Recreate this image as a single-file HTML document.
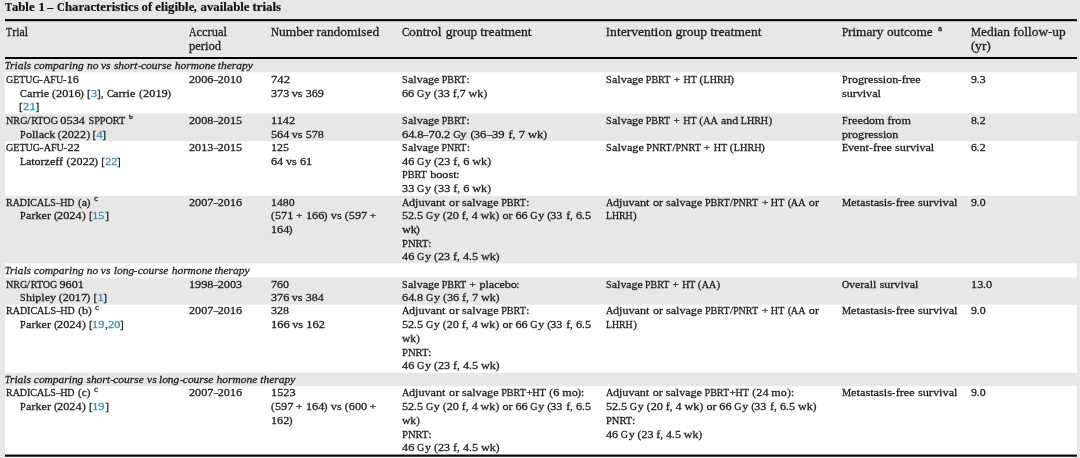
<!DOCTYPE html>
<html>
<head>
<meta charset="utf-8">
<title>Table 1 - Characteristics of eligible, available trials</title>
<style>
html,body{margin:0;padding:0;}
body{width:1080px;height:458px;overflow:hidden;background:#e7e7e5;font-family:"Liberation Serif",serif;color:#1a1a1a;position:relative;}
#page{position:absolute;left:0;top:0;width:1080px;height:458px;will-change:transform;}
.w,.r{position:absolute;left:5px;width:1072px;}
.w{background:#fff;}
.l{position:absolute;transform-origin:0 0;white-space:pre;line-height:16px;height:16px;-webkit-text-stroke:0.28px #1a1a1a;}
.l i{display:inline-block;font-style:inherit;transform-origin:0 0;white-space:pre;}
.b{font-size:11.4px;}
.s{font-size:10.8px;font-style:italic;}
.h{font-size:12.5px;}
.title{font-size:12.2px;font-weight:bold;color:#111;-webkit-text-stroke:0.2px #111;}
a,.k{color:#2f93bf;text-decoration:none;-webkit-text-stroke:0.28px #2f93bf;}
</style>
</head>
<body>
<div id="page">
<div class="w" style="top:73px;height:40px"></div>
<div class="w" style="top:72px;height:1px;background:#f9f9f8"></div>
<div class="w" style="top:113px;height:1px;background:#f3f3f2"></div>
<div class="w" style="top:141px;height:54px"></div>
<div class="w" style="top:195px;height:1px;background:#f8f8f7"></div>
<div class="w" style="top:264px;height:13px"></div>
<div class="w" style="top:263px;height:1px;background:#f9f9f8"></div>
<div class="w" style="top:277px;height:1px;background:#f3f3f2"></div>
<div class="w" style="top:305px;height:67px"></div>
<div class="w" style="top:304px;height:1px;background:#eeeeed"></div>
<div class="w" style="top:372px;height:1px;background:#f8f8f7"></div>
<div class="w" style="top:387px;height:67px"></div>
<div class="w" style="top:386px;height:1px;background:#f9f9f8"></div>
<div class="r" style="top:19px;height:1px;background:#1c1c1c"></div>
<div class="r" style="top:20px;height:1px;background:#050505"></div>
<div class="r" style="top:21px;height:1px;background:#b4b4b4"></div>
<div class="r" style="top:57px;height:2px;background:#050505"></div>
<div class="r" style="top:454px;height:1px;background:#8a8a8a"></div>
<div class="r" style="top:455px;height:1px;background:#050505"></div>
<div class="r" style="top:456px;height:1px;background:#4a4a4a"></div>
<div class="r" style="top:457px;height:1px;background:#f1f1f1"></div>
<div class="l title" id="l0" style="left:4.90px;top:-1px;transform:scaleX(0.9826)"><i style="transform:scaleX(0.888);margin-right:-0.91px">T</i><i style="transform:scaleX(1.065);margin-right:1.40px">able</i><i style="transform:scaleX(1.078);margin-right:0.24px"> </i><i style="transform:scaleX(1.077);margin-right:0.47px">1</i><i style="transform:scaleX(1.078);margin-right:0.24px"> </i><i style="transform:scaleX(0.988);margin-right:-0.08px">–</i><i style="transform:scaleX(1.078);margin-right:0.24px"> </i><i style="transform:scaleX(0.888);margin-right:-0.99px">C</i><i style="transform:scaleX(1.065);margin-right:4.54px">haracteristics</i><i style="transform:scaleX(1.078);margin-right:0.24px"> </i><i style="transform:scaleX(1.065);margin-right:0.66px">of</i><i style="transform:scaleX(1.078);margin-right:0.24px"> </i><i style="transform:scaleX(1.065);margin-right:2.40px">eligible</i><i style="transform:scaleX(0.988);margin-right:-0.04px">,</i><i style="transform:scaleX(1.078);margin-right:0.24px"> </i><i style="transform:scaleX(1.065);margin-right:3.02px">available</i><i style="transform:scaleX(1.078);margin-right:0.24px"> </i><i style="transform:scaleX(1.065);margin-right:1.75px">trials</i></div>
<div class="l h" id="l1" style="left:5.70px;top:24px;transform:scaleX(0.8890)"><i style="transform:scaleX(0.888);margin-right:-0.86px">T</i><i style="transform:scaleX(1.065);margin-right:1.08px">rial</i></div>
<div class="l h" id="l2" style="left:188.50px;top:24px;transform:scaleX(0.9385)"><i style="transform:scaleX(0.888);margin-right:-1.01px">A</i><i style="transform:scaleX(1.065);margin-right:1.97px">ccrual</i></div>
<div class="l h" id="l3" style="left:188.50px;top:38px;transform:scaleX(0.9406)"><i style="transform:scaleX(1.065);margin-right:2.06px">period</i></div>
<div class="l h" id="l4" style="left:271.30px;top:24px;transform:scaleX(1.0100)"><i style="transform:scaleX(0.888);margin-right:-1.01px">N</i><i style="transform:scaleX(1.065);margin-right:2.06px">umber</i><i style="transform:scaleX(1.078);margin-right:0.24px"> </i><i style="transform:scaleX(1.065);margin-right:3.76px">randomised</i></div>
<div class="l h" id="l5" style="left:401.50px;top:24px;transform:scaleX(1.0175)"><i style="transform:scaleX(0.888);margin-right:-0.94px">C</i><i style="transform:scaleX(1.065);margin-right:1.93px">ontrol</i><i style="transform:scaleX(1.078);margin-right:0.24px"> </i><i style="transform:scaleX(1.065);margin-right:1.88px">group</i><i style="transform:scaleX(1.078);margin-right:0.24px"> </i><i style="transform:scaleX(1.065);margin-right:3.05px">treatment</i></div>
<div class="l h" id="l6" style="left:605.80px;top:24px;transform:scaleX(1.0210)"><i style="transform:scaleX(0.888);margin-right:-0.47px">I</i><i style="transform:scaleX(1.065);margin-right:3.67px">ntervention</i><i style="transform:scaleX(1.078);margin-right:0.24px"> </i><i style="transform:scaleX(1.065);margin-right:1.88px">group</i><i style="transform:scaleX(1.078);margin-right:0.24px"> </i><i style="transform:scaleX(1.065);margin-right:3.05px">treatment</i></div>
<div class="l h" id="l7" style="left:842.20px;top:24px;transform:scaleX(0.9980)"><i style="transform:scaleX(0.888);margin-right:-0.78px">P</i><i style="transform:scaleX(1.065);margin-right:2.15px">rimary</i><i style="transform:scaleX(1.078);margin-right:0.24px"> </i><i style="transform:scaleX(1.065);margin-right:2.78px">outcome</i></div>
<div class="l h" id="l8" style="left:971.30px;top:24px;transform:scaleX(1.0038)"><i style="transform:scaleX(0.888);margin-right:-1.25px">M</i><i style="transform:scaleX(1.065);margin-right:1.75px">edian</i><i style="transform:scaleX(1.078);margin-right:0.24px"> </i><i style="transform:scaleX(1.065);margin-right:2.11px">follow</i><i style="transform:scaleX(0.988);margin-right:-0.05px">-</i><i style="transform:scaleX(1.065);margin-right:0.81px">up</i></div>
<div class="l h" id="l9" style="left:971.10px;top:38px;transform:scaleX(1.0300)"><i style="transform:scaleX(0.988);margin-right:-0.05px">(</i><i style="transform:scaleX(1.065);margin-right:0.67px">yr</i><i style="transform:scaleX(0.988);margin-right:-0.05px">)</i></div>
<div class="l s" id="l10" style="left:4.80px;top:57px;transform:scaleX(0.9991)"><i style="transform:scaleX(0.888);margin-right:-0.67px">T</i><i style="transform:scaleX(1.065);margin-right:1.28px">rials</i><i style="transform:scaleX(1.078);margin-right:0.21px"> </i><i style="transform:scaleX(1.065);margin-right:3.02px">comparing</i><i style="transform:scaleX(1.078);margin-right:0.21px"> </i><i style="transform:scaleX(1.065);margin-right:0.70px">no</i><i style="transform:scaleX(1.078);margin-right:0.21px"> </i><i style="transform:scaleX(1.065);margin-right:0.58px">vs</i><i style="transform:scaleX(1.078);margin-right:0.21px"> </i><i style="transform:scaleX(1.065);margin-right:1.43px">short</i><i style="transform:scaleX(0.988);margin-right:-0.04px">-</i><i style="transform:scaleX(1.065);margin-right:1.86px">course</i><i style="transform:scaleX(1.078);margin-right:0.21px"> </i><i style="transform:scaleX(1.065);margin-right:2.48px">hormone</i><i style="transform:scaleX(1.078);margin-right:0.21px"> </i><i style="transform:scaleX(1.065);margin-right:2.13px">therapy</i></div>
<div class="l s" id="l11" style="left:4.80px;top:262px;transform:scaleX(0.9980)"><i style="transform:scaleX(0.888);margin-right:-0.67px">T</i><i style="transform:scaleX(1.065);margin-right:1.28px">rials</i><i style="transform:scaleX(1.078);margin-right:0.21px"> </i><i style="transform:scaleX(1.065);margin-right:3.02px">comparing</i><i style="transform:scaleX(1.078);margin-right:0.21px"> </i><i style="transform:scaleX(1.065);margin-right:0.70px">no</i><i style="transform:scaleX(1.078);margin-right:0.21px"> </i><i style="transform:scaleX(1.065);margin-right:0.58px">vs</i><i style="transform:scaleX(1.078);margin-right:0.21px"> </i><i style="transform:scaleX(1.065);margin-right:1.24px">long</i><i style="transform:scaleX(0.988);margin-right:-0.04px">-</i><i style="transform:scaleX(1.065);margin-right:1.86px">course</i><i style="transform:scaleX(1.078);margin-right:0.21px"> </i><i style="transform:scaleX(1.065);margin-right:2.48px">hormone</i><i style="transform:scaleX(1.078);margin-right:0.21px"> </i><i style="transform:scaleX(1.065);margin-right:2.13px">therapy</i></div>
<div class="l s" id="l12" style="left:4.80px;top:371px;transform:scaleX(0.9934)"><i style="transform:scaleX(0.888);margin-right:-0.67px">T</i><i style="transform:scaleX(1.065);margin-right:1.28px">rials</i><i style="transform:scaleX(1.078);margin-right:0.21px"> </i><i style="transform:scaleX(1.065);margin-right:3.02px">comparing</i><i style="transform:scaleX(1.078);margin-right:0.21px"> </i><i style="transform:scaleX(1.065);margin-right:1.43px">short</i><i style="transform:scaleX(0.988);margin-right:-0.04px">-</i><i style="transform:scaleX(1.065);margin-right:1.86px">course</i><i style="transform:scaleX(1.078);margin-right:0.21px"> </i><i style="transform:scaleX(1.065);margin-right:0.58px">vs</i><i style="transform:scaleX(1.078);margin-right:0.21px"> </i><i style="transform:scaleX(1.065);margin-right:1.24px">long</i><i style="transform:scaleX(0.988);margin-right:-0.04px">-</i><i style="transform:scaleX(1.065);margin-right:1.86px">course</i><i style="transform:scaleX(1.078);margin-right:0.21px"> </i><i style="transform:scaleX(1.065);margin-right:2.48px">hormone</i><i style="transform:scaleX(1.078);margin-right:0.21px"> </i><i style="transform:scaleX(1.065);margin-right:2.13px">therapy</i></div>
<div class="l b" id="l13" style="left:5.70px;top:71px;transform:scaleX(0.9793)"><i style="transform:scaleX(0.888);margin-right:-4.33px">GETUG</i><i style="transform:scaleX(0.988);margin-right:-0.05px">-</i><i style="transform:scaleX(0.888);margin-right:-2.56px">AFU</i><i style="transform:scaleX(0.988);margin-right:-0.05px">-</i><i style="transform:scaleX(1.077);margin-right:0.88px">16</i></div>
<div class="l b" id="l14" style="left:19.60px;top:85px;transform:scaleX(1.0009)"><i style="transform:scaleX(0.888);margin-right:-0.85px">C</i><i style="transform:scaleX(1.065);margin-right:1.35px">arrie</i><i style="transform:scaleX(1.078);margin-right:0.22px"> </i><i style="transform:scaleX(0.988);margin-right:-0.05px">(</i><i style="transform:scaleX(1.077);margin-right:1.76px">2016</i><i style="transform:scaleX(0.988);margin-right:-0.05px">)</i><i style="transform:scaleX(1.078);margin-right:0.22px"> </i><i style="transform:scaleX(0.988);margin-right:-0.05px">[</i><i class="k" style="transform:scaleX(1.077);margin-right:0.44px">3</i><i style="transform:scaleX(0.988);margin-right:-0.08px">],</i><i style="transform:scaleX(1.078);margin-right:0.22px"> </i><i style="transform:scaleX(0.888);margin-right:-0.85px">C</i><i style="transform:scaleX(1.065);margin-right:1.35px">arrie</i><i style="transform:scaleX(1.078);margin-right:0.22px"> </i><i style="transform:scaleX(0.988);margin-right:-0.05px">(</i><i style="transform:scaleX(1.077);margin-right:1.76px">2019</i><i style="transform:scaleX(0.988);margin-right:-0.05px">)</i></div>
<div class="l b" id="l15" style="left:19.40px;top:98px;transform:scaleX(1.0254)"><i style="transform:scaleX(0.988);margin-right:-0.05px">[</i><i class="k" style="transform:scaleX(1.077);margin-right:0.88px">21</i><i style="transform:scaleX(0.988);margin-right:-0.05px">]</i></div>
<div class="l b" id="l16" style="left:188.50px;top:71px;transform:scaleX(0.9905)"><i style="transform:scaleX(1.077);margin-right:1.76px">2006</i><i style="transform:scaleX(0.800);margin-right:-1.14px">–</i><i style="transform:scaleX(1.077);margin-right:1.76px">2010</i></div>
<div class="l b" id="l17" style="left:271.30px;top:71px;transform:scaleX(1.0351)"><i style="transform:scaleX(1.077);margin-right:1.32px">742</i></div>
<div class="l b" id="l18" style="left:271.30px;top:85px;transform:scaleX(0.9900)"><i style="transform:scaleX(1.077);margin-right:1.32px">373</i><i style="transform:scaleX(1.078);margin-right:0.22px"> </i><i style="transform:scaleX(1.065);margin-right:0.65px">vs</i><i style="transform:scaleX(1.078);margin-right:0.22px"> </i><i style="transform:scaleX(1.077);margin-right:1.32px">369</i></div>
<div class="l b" id="l19" style="left:401.50px;top:71px;transform:scaleX(0.9920)"><i style="transform:scaleX(0.888);margin-right:-0.71px">S</i><i style="transform:scaleX(1.065);margin-right:1.92px">alvage</i><i style="transform:scaleX(1.078);margin-right:0.22px"> </i><i style="transform:scaleX(0.888);margin-right:-3.12px">PBRT</i><i style="transform:scaleX(0.988);margin-right:-0.04px">:</i></div>
<div class="l b" id="l20" style="left:401.50px;top:85px;transform:scaleX(0.9935)"><i style="transform:scaleX(1.077);margin-right:0.88px">66</i><i style="transform:scaleX(1.078);margin-right:0.22px"> </i><i style="transform:scaleX(0.888);margin-right:-0.92px">G</i><i style="transform:scaleX(1.065);margin-right:0.37px">y</i><i style="transform:scaleX(1.078);margin-right:0.22px"> </i><i style="transform:scaleX(0.988);margin-right:-0.05px">(</i><i style="transform:scaleX(1.077);margin-right:0.88px">33</i><i style="transform:scaleX(1.078);margin-right:0.22px"> </i><i style="transform:scaleX(1.065);margin-right:0.24px">f</i><i style="transform:scaleX(0.988);margin-right:-0.04px">,</i><i style="transform:scaleX(1.077);margin-right:0.44px">7</i><i style="transform:scaleX(1.078);margin-right:0.22px"> </i><i style="transform:scaleX(1.065);margin-right:0.90px">wk</i><i style="transform:scaleX(0.988);margin-right:-0.05px">)</i></div>
<div class="l b" id="l21" style="left:605.80px;top:71px;transform:scaleX(0.9948)"><i style="transform:scaleX(0.888);margin-right:-0.71px">S</i><i style="transform:scaleX(1.065);margin-right:1.92px">alvage</i><i style="transform:scaleX(1.078);margin-right:0.22px"> </i><i style="transform:scaleX(0.888);margin-right:-3.12px">PBRT</i><i style="transform:scaleX(1.078);margin-right:0.22px"> </i><i style="transform:scaleX(0.988);margin-right:-0.08px">+</i><i style="transform:scaleX(1.078);margin-right:0.22px"> </i><i style="transform:scaleX(0.888);margin-right:-1.70px">HT</i><i style="transform:scaleX(1.078);margin-right:0.22px"> </i><i style="transform:scaleX(0.988);margin-right:-0.05px">(</i><i style="transform:scaleX(0.888);margin-right:-3.48px">LHRH</i><i style="transform:scaleX(0.988);margin-right:-0.05px">)</i></div>
<div class="l b" id="l22" style="left:842.20px;top:71px;transform:scaleX(0.9955)"><i style="transform:scaleX(0.888);margin-right:-0.71px">P</i><i style="transform:scaleX(1.065);margin-right:3.06px">rogression</i><i style="transform:scaleX(0.988);margin-right:-0.05px">-</i><i style="transform:scaleX(1.065);margin-right:1.14px">free</i></div>
<div class="l b" id="l23" style="left:842.20px;top:85px;transform:scaleX(0.9936)"><i style="transform:scaleX(1.065);margin-right:2.37px">survival</i></div>
<div class="l b" id="l24" style="left:971.30px;top:71px;transform:scaleX(0.9617)"><i style="transform:scaleX(1.077);margin-right:0.44px">9</i><i style="transform:scaleX(0.988);margin-right:-0.04px">.</i><i style="transform:scaleX(1.077);margin-right:0.44px">3</i></div>
<div class="l b" id="l25" style="left:5.70px;top:112px;transform:scaleX(1.0064)"><i style="transform:scaleX(0.888);margin-right:-2.70px">NRG</i><i style="transform:scaleX(0.988);margin-right:-0.04px">/</i><i style="transform:scaleX(0.888);margin-right:-3.38px">RTOG</i><i style="transform:scaleX(1.078);margin-right:0.22px"> </i><i style="transform:scaleX(1.077);margin-right:1.76px">0534</i><i style="transform:scaleX(1.078);margin-right:0.22px"> </i><i style="transform:scaleX(0.888);margin-right:-4.61px">SPPORT</i></div>
<div class="l b" id="l26" style="left:19.60px;top:126px;transform:scaleX(0.9919)"><i style="transform:scaleX(0.888);margin-right:-0.71px">P</i><i style="transform:scaleX(1.065);margin-right:1.80px">ollack</i><i style="transform:scaleX(1.078);margin-right:0.22px"> </i><i style="transform:scaleX(0.988);margin-right:-0.05px">(</i><i style="transform:scaleX(1.077);margin-right:1.76px">2022</i><i style="transform:scaleX(0.988);margin-right:-0.05px">)</i><i style="transform:scaleX(1.078);margin-right:0.22px"> </i><i style="transform:scaleX(0.988);margin-right:-0.05px">[</i><i class="k" style="transform:scaleX(1.077);margin-right:0.44px">4</i><i style="transform:scaleX(0.988);margin-right:-0.05px">]</i></div>
<div class="l b" id="l27" style="left:188.50px;top:112px;transform:scaleX(0.9905)"><i style="transform:scaleX(1.077);margin-right:1.76px">2008</i><i style="transform:scaleX(0.800);margin-right:-1.14px">–</i><i style="transform:scaleX(1.077);margin-right:1.76px">2015</i></div>
<div class="l b" id="l28" style="left:271.30px;top:112px;transform:scaleX(1.0037)"><i style="transform:scaleX(1.077);margin-right:1.73px">1142</i></div>
<div class="l b" id="l29" style="left:271.30px;top:126px;transform:scaleX(0.9900)"><i style="transform:scaleX(1.077);margin-right:1.32px">564</i><i style="transform:scaleX(1.078);margin-right:0.22px"> </i><i style="transform:scaleX(1.065);margin-right:0.65px">vs</i><i style="transform:scaleX(1.078);margin-right:0.22px"> </i><i style="transform:scaleX(1.077);margin-right:1.32px">578</i></div>
<div class="l b" id="l30" style="left:401.50px;top:112px;transform:scaleX(0.9920)"><i style="transform:scaleX(0.888);margin-right:-0.71px">S</i><i style="transform:scaleX(1.065);margin-right:1.92px">alvage</i><i style="transform:scaleX(1.078);margin-right:0.22px"> </i><i style="transform:scaleX(0.888);margin-right:-3.12px">PBRT</i><i style="transform:scaleX(0.988);margin-right:-0.04px">:</i></div>
<div class="l b" id="l31" style="left:401.50px;top:126px;transform:scaleX(1.0238)"><i style="transform:scaleX(1.077);margin-right:0.88px">64</i><i style="transform:scaleX(0.988);margin-right:-0.04px">.</i><i style="transform:scaleX(1.077);margin-right:0.44px">8</i><i style="transform:scaleX(0.800);margin-right:-1.14px">–</i><i style="transform:scaleX(1.077);margin-right:0.88px">70</i><i style="transform:scaleX(0.988);margin-right:-0.04px">.</i><i style="transform:scaleX(1.077);margin-right:0.44px">2</i><i style="transform:scaleX(1.078);margin-right:0.22px"> </i><i style="transform:scaleX(0.888);margin-right:-0.92px">G</i><i style="transform:scaleX(1.065);margin-right:0.37px">y</i><i style="transform:scaleX(1.078);margin-right:0.22px"> </i><i style="transform:scaleX(0.988);margin-right:-0.05px">(</i><i style="transform:scaleX(1.077);margin-right:0.88px">36</i><i style="transform:scaleX(0.988);margin-right:-0.07px">‒</i><i style="transform:scaleX(1.077);margin-right:0.88px">39</i><i style="transform:scaleX(1.078);margin-right:0.22px"> </i><i style="transform:scaleX(1.065);margin-right:0.24px">f</i><i style="transform:scaleX(0.988);margin-right:-0.04px">,</i><i style="transform:scaleX(1.078);margin-right:0.22px"> </i><i style="transform:scaleX(1.077);margin-right:0.44px">7</i><i style="transform:scaleX(1.078);margin-right:0.22px"> </i><i style="transform:scaleX(1.065);margin-right:0.90px">wk</i><i style="transform:scaleX(0.988);margin-right:-0.05px">)</i></div>
<div class="l b" id="l32" style="left:605.80px;top:112px;transform:scaleX(0.9913)"><i style="transform:scaleX(0.888);margin-right:-0.71px">S</i><i style="transform:scaleX(1.065);margin-right:1.92px">alvage</i><i style="transform:scaleX(1.078);margin-right:0.22px"> </i><i style="transform:scaleX(0.888);margin-right:-3.12px">PBRT</i><i style="transform:scaleX(1.078);margin-right:0.22px"> </i><i style="transform:scaleX(0.988);margin-right:-0.08px">+</i><i style="transform:scaleX(1.078);margin-right:0.22px"> </i><i style="transform:scaleX(0.888);margin-right:-1.70px">HT</i><i style="transform:scaleX(1.078);margin-right:0.22px"> </i><i style="transform:scaleX(0.988);margin-right:-0.05px">(</i><i style="transform:scaleX(0.888);margin-right:-1.85px">AA</i><i style="transform:scaleX(1.078);margin-right:0.22px"> </i><i style="transform:scaleX(1.065);margin-right:1.06px">and</i><i style="transform:scaleX(1.078);margin-right:0.22px"> </i><i style="transform:scaleX(0.888);margin-right:-3.48px">LHRH</i><i style="transform:scaleX(0.988);margin-right:-0.05px">)</i></div>
<div class="l b" id="l33" style="left:842.20px;top:112px;transform:scaleX(1.0042)"><i style="transform:scaleX(0.888);margin-right:-0.71px">F</i><i style="transform:scaleX(1.065);margin-right:2.20px">reedom</i><i style="transform:scaleX(1.078);margin-right:0.22px"> </i><i style="transform:scaleX(1.065);margin-right:1.43px">from</i></div>
<div class="l b" id="l34" style="left:842.20px;top:126px;transform:scaleX(0.9953)"><i style="transform:scaleX(1.065);margin-right:3.43px">progression</i></div>
<div class="l b" id="l35" style="left:971.30px;top:112px;transform:scaleX(0.9617)"><i style="transform:scaleX(1.077);margin-right:0.44px">8</i><i style="transform:scaleX(0.988);margin-right:-0.04px">.</i><i style="transform:scaleX(1.077);margin-right:0.44px">2</i></div>
<div class="l b" id="l36" style="left:5.70px;top:139px;transform:scaleX(0.9929)"><i style="transform:scaleX(0.888);margin-right:-4.33px">GETUG</i><i style="transform:scaleX(0.988);margin-right:-0.05px">-</i><i style="transform:scaleX(0.888);margin-right:-2.56px">AFU</i><i style="transform:scaleX(0.988);margin-right:-0.05px">-</i><i style="transform:scaleX(1.077);margin-right:0.88px">22</i></div>
<div class="l b" id="l37" style="left:19.60px;top:153px;transform:scaleX(0.9901)"><i style="transform:scaleX(0.888);margin-right:-0.78px">L</i><i style="transform:scaleX(1.065);margin-right:2.27px">atorzeff</i><i style="transform:scaleX(1.078);margin-right:0.22px"> </i><i style="transform:scaleX(0.988);margin-right:-0.05px">(</i><i style="transform:scaleX(1.077);margin-right:1.76px">2022</i><i style="transform:scaleX(0.988);margin-right:-0.05px">)</i><i style="transform:scaleX(1.078);margin-right:0.22px"> </i><i style="transform:scaleX(0.988);margin-right:-0.05px">[</i><i class="k" style="transform:scaleX(1.077);margin-right:0.88px">22</i><i style="transform:scaleX(0.988);margin-right:-0.05px">]</i></div>
<div class="l b" id="l38" style="left:188.50px;top:139px;transform:scaleX(0.9905)"><i style="transform:scaleX(1.077);margin-right:1.76px">2013</i><i style="transform:scaleX(0.800);margin-right:-1.14px">–</i><i style="transform:scaleX(1.077);margin-right:1.76px">2015</i></div>
<div class="l b" id="l39" style="left:271.30px;top:139px;transform:scaleX(0.9785)"><i style="transform:scaleX(1.077);margin-right:1.32px">125</i></div>
<div class="l b" id="l40" style="left:271.30px;top:153px;transform:scaleX(0.9985)"><i style="transform:scaleX(1.077);margin-right:0.88px">64</i><i style="transform:scaleX(1.078);margin-right:0.22px"> </i><i style="transform:scaleX(1.065);margin-right:0.65px">vs</i><i style="transform:scaleX(1.078);margin-right:0.22px"> </i><i style="transform:scaleX(1.077);margin-right:0.88px">61</i></div>
<div class="l b" id="l41" style="left:401.50px;top:139px;transform:scaleX(0.9862)"><i style="transform:scaleX(0.888);margin-right:-0.71px">S</i><i style="transform:scaleX(1.065);margin-right:1.92px">alvage</i><i style="transform:scaleX(1.078);margin-right:0.22px"> </i><i style="transform:scaleX(0.888);margin-right:-3.19px">PNRT</i><i style="transform:scaleX(0.988);margin-right:-0.04px">:</i></div>
<div class="l b" id="l42" style="left:401.50px;top:153px;transform:scaleX(1.0031)"><i style="transform:scaleX(1.077);margin-right:0.88px">46</i><i style="transform:scaleX(1.078);margin-right:0.22px"> </i><i style="transform:scaleX(0.888);margin-right:-0.92px">G</i><i style="transform:scaleX(1.065);margin-right:0.37px">y</i><i style="transform:scaleX(1.078);margin-right:0.22px"> </i><i style="transform:scaleX(0.988);margin-right:-0.05px">(</i><i style="transform:scaleX(1.077);margin-right:0.88px">23</i><i style="transform:scaleX(1.078);margin-right:0.22px"> </i><i style="transform:scaleX(1.065);margin-right:0.24px">f</i><i style="transform:scaleX(0.988);margin-right:-0.04px">,</i><i style="transform:scaleX(1.078);margin-right:0.22px"> </i><i style="transform:scaleX(1.077);margin-right:0.44px">6</i><i style="transform:scaleX(1.078);margin-right:0.22px"> </i><i style="transform:scaleX(1.065);margin-right:0.90px">wk</i><i style="transform:scaleX(0.988);margin-right:-0.05px">)</i></div>
<div class="l b" id="l43" style="left:401.50px;top:166px;transform:scaleX(1.0053)"><i style="transform:scaleX(0.888);margin-right:-3.12px">PBRT</i><i style="transform:scaleX(1.078);margin-right:0.22px"> </i><i style="transform:scaleX(1.065);margin-right:1.59px">boost</i><i style="transform:scaleX(0.988);margin-right:-0.04px">:</i></div>
<div class="l b" id="l44" style="left:401.50px;top:180px;transform:scaleX(1.0031)"><i style="transform:scaleX(1.077);margin-right:0.88px">33</i><i style="transform:scaleX(1.078);margin-right:0.22px"> </i><i style="transform:scaleX(0.888);margin-right:-0.92px">G</i><i style="transform:scaleX(1.065);margin-right:0.37px">y</i><i style="transform:scaleX(1.078);margin-right:0.22px"> </i><i style="transform:scaleX(0.988);margin-right:-0.05px">(</i><i style="transform:scaleX(1.077);margin-right:0.88px">33</i><i style="transform:scaleX(1.078);margin-right:0.22px"> </i><i style="transform:scaleX(1.065);margin-right:0.24px">f</i><i style="transform:scaleX(0.988);margin-right:-0.04px">,</i><i style="transform:scaleX(1.078);margin-right:0.22px"> </i><i style="transform:scaleX(1.077);margin-right:0.44px">6</i><i style="transform:scaleX(1.078);margin-right:0.22px"> </i><i style="transform:scaleX(1.065);margin-right:0.90px">wk</i><i style="transform:scaleX(0.988);margin-right:-0.05px">)</i></div>
<div class="l b" id="l45" style="left:605.80px;top:139px;transform:scaleX(1.0065)"><i style="transform:scaleX(0.888);margin-right:-0.71px">S</i><i style="transform:scaleX(1.065);margin-right:1.92px">alvage</i><i style="transform:scaleX(1.078);margin-right:0.22px"> </i><i style="transform:scaleX(0.888);margin-right:-3.19px">PNRT</i><i style="transform:scaleX(0.988);margin-right:-0.04px">/</i><i style="transform:scaleX(0.888);margin-right:-3.19px">PNRT</i><i style="transform:scaleX(1.078);margin-right:0.22px"> </i><i style="transform:scaleX(0.988);margin-right:-0.08px">+</i><i style="transform:scaleX(1.078);margin-right:0.22px"> </i><i style="transform:scaleX(0.888);margin-right:-1.70px">HT</i><i style="transform:scaleX(1.078);margin-right:0.22px"> </i><i style="transform:scaleX(0.988);margin-right:-0.05px">(</i><i style="transform:scaleX(0.888);margin-right:-3.48px">LHRH</i><i style="transform:scaleX(0.988);margin-right:-0.05px">)</i></div>
<div class="l b" id="l46" style="left:842.20px;top:139px;transform:scaleX(1.0017)"><i style="transform:scaleX(0.888);margin-right:-0.78px">E</i><i style="transform:scaleX(1.065);margin-right:1.27px">vent</i><i style="transform:scaleX(0.988);margin-right:-0.05px">-</i><i style="transform:scaleX(1.065);margin-right:1.14px">free</i><i style="transform:scaleX(1.078);margin-right:0.22px"> </i><i style="transform:scaleX(1.065);margin-right:2.37px">survival</i></div>
<div class="l b" id="l47" style="left:971.30px;top:139px;transform:scaleX(0.9617)"><i style="transform:scaleX(1.077);margin-right:0.44px">6</i><i style="transform:scaleX(0.988);margin-right:-0.04px">.</i><i style="transform:scaleX(1.077);margin-right:0.44px">2</i></div>
<div class="l b" id="l48" style="left:5.70px;top:194px;transform:scaleX(0.9850)"><i style="transform:scaleX(0.888);margin-right:-6.39px">RADICALS</i><i style="transform:scaleX(0.800);margin-right:-1.14px">–</i><i style="transform:scaleX(0.888);margin-right:-1.85px">HD</i><i style="transform:scaleX(1.078);margin-right:0.22px"> </i><i style="transform:scaleX(0.988);margin-right:-0.05px">(</i><i style="transform:scaleX(1.065);margin-right:0.33px">a</i><i style="transform:scaleX(0.988);margin-right:-0.05px">)</i></div>
<div class="l b" id="l49" style="left:19.60px;top:207px;transform:scaleX(1.0018)"><i style="transform:scaleX(0.888);margin-right:-0.71px">P</i><i style="transform:scaleX(1.065);margin-right:1.51px">arker</i><i style="transform:scaleX(1.078);margin-right:0.22px"> </i><i style="transform:scaleX(0.988);margin-right:-0.05px">(</i><i style="transform:scaleX(1.077);margin-right:1.76px">2024</i><i style="transform:scaleX(0.988);margin-right:-0.05px">)</i><i style="transform:scaleX(1.078);margin-right:0.22px"> </i><i style="transform:scaleX(0.988);margin-right:-0.05px">[</i><i class="k" style="transform:scaleX(1.077);margin-right:0.88px">15</i><i style="transform:scaleX(0.988);margin-right:-0.05px">]</i></div>
<div class="l b" id="l50" style="left:188.50px;top:194px;transform:scaleX(0.9905)"><i style="transform:scaleX(1.077);margin-right:1.76px">2007</i><i style="transform:scaleX(0.800);margin-right:-1.14px">–</i><i style="transform:scaleX(1.077);margin-right:1.76px">2016</i></div>
<div class="l b" id="l51" style="left:271.30px;top:194px;transform:scaleX(0.9588)"><i style="transform:scaleX(1.077);margin-right:1.76px">1480</i></div>
<div class="l b" id="l52" style="left:271.10px;top:207px;transform:scaleX(0.9973)"><i style="transform:scaleX(0.988);margin-right:-0.05px">(</i><i style="transform:scaleX(1.077);margin-right:1.32px">571</i><i style="transform:scaleX(1.078);margin-right:0.22px"> </i><i style="transform:scaleX(0.988);margin-right:-0.08px">+</i><i style="transform:scaleX(1.078);margin-right:0.22px"> </i><i style="transform:scaleX(1.077);margin-right:1.32px">166</i><i style="transform:scaleX(0.988);margin-right:-0.05px">)</i><i style="transform:scaleX(1.078);margin-right:0.22px"> </i><i style="transform:scaleX(1.065);margin-right:0.65px">vs</i><i style="transform:scaleX(1.078);margin-right:0.22px"> </i><i style="transform:scaleX(0.988);margin-right:-0.05px">(</i><i style="transform:scaleX(1.077);margin-right:1.32px">597</i><i style="transform:scaleX(1.078);margin-right:0.22px"> </i><i style="transform:scaleX(0.988);margin-right:-0.08px">+</i></div>
<div class="l b" id="l53" style="left:271.30px;top:221px;transform:scaleX(0.9894)"><i style="transform:scaleX(1.077);margin-right:1.32px">164</i><i style="transform:scaleX(0.988);margin-right:-0.05px">)</i></div>
<div class="l b" id="l54" style="left:401.50px;top:194px;transform:scaleX(1.0019)"><i style="transform:scaleX(0.888);margin-right:-0.92px">A</i><i style="transform:scaleX(1.065);margin-right:2.20px">djuvant</i><i style="transform:scaleX(1.078);margin-right:0.22px"> </i><i style="transform:scaleX(1.065);margin-right:0.61px">or</i><i style="transform:scaleX(1.078);margin-right:0.22px"> </i><i style="transform:scaleX(1.065);margin-right:2.20px">salvage</i><i style="transform:scaleX(1.078);margin-right:0.22px"> </i><i style="transform:scaleX(0.888);margin-right:-3.12px">PBRT</i><i style="transform:scaleX(0.988);margin-right:-0.04px">:</i></div>
<div class="l b" id="l55" style="left:401.50px;top:207px;transform:scaleX(0.9948)"><i style="transform:scaleX(1.077);margin-right:0.88px">52</i><i style="transform:scaleX(0.988);margin-right:-0.04px">.</i><i style="transform:scaleX(1.077);margin-right:0.44px">5</i><i style="transform:scaleX(1.078);margin-right:0.22px"> </i><i style="transform:scaleX(0.888);margin-right:-0.92px">G</i><i style="transform:scaleX(1.065);margin-right:0.37px">y</i><i style="transform:scaleX(1.078);margin-right:0.22px"> </i><i style="transform:scaleX(0.988);margin-right:-0.05px">(</i><i style="transform:scaleX(1.077);margin-right:0.88px">20</i><i style="transform:scaleX(1.078);margin-right:0.22px"> </i><i style="transform:scaleX(1.065);margin-right:0.24px">f</i><i style="transform:scaleX(0.988);margin-right:-0.04px">,</i><i style="transform:scaleX(1.078);margin-right:0.22px"> </i><i style="transform:scaleX(1.077);margin-right:0.44px">4</i><i style="transform:scaleX(1.078);margin-right:0.22px"> </i><i style="transform:scaleX(1.065);margin-right:0.90px">wk</i><i style="transform:scaleX(0.988);margin-right:-0.05px">)</i><i style="transform:scaleX(1.078);margin-right:0.22px"> </i><i style="transform:scaleX(1.065);margin-right:0.61px">or</i><i style="transform:scaleX(1.078);margin-right:0.22px"> </i><i style="transform:scaleX(1.077);margin-right:0.88px">66</i><i style="transform:scaleX(1.078);margin-right:0.22px"> </i><i style="transform:scaleX(0.888);margin-right:-0.92px">G</i><i style="transform:scaleX(1.065);margin-right:0.37px">y</i><i style="transform:scaleX(1.078);margin-right:0.22px"> </i><i style="transform:scaleX(0.988);margin-right:-0.05px">(</i><i style="transform:scaleX(1.077);margin-right:0.88px">33</i><i style="transform:scaleX(1.078);margin-right:0.22px"> </i><i style="transform:scaleX(1.065);margin-right:0.24px">f</i><i style="transform:scaleX(0.988);margin-right:-0.04px">,</i><i style="transform:scaleX(1.078);margin-right:0.22px"> </i><i style="transform:scaleX(1.077);margin-right:0.44px">6</i><i style="transform:scaleX(0.988);margin-right:-0.04px">.</i><i style="transform:scaleX(1.077);margin-right:0.44px">5</i></div>
<div class="l b" id="l56" style="left:401.50px;top:221px;transform:scaleX(1.0000)"><i style="transform:scaleX(1.065);margin-right:0.90px">wk</i><i style="transform:scaleX(0.988);margin-right:-0.05px">)</i></div>
<div class="l b" id="l57" style="left:401.50px;top:235px;transform:scaleX(1.0514)"><i style="transform:scaleX(0.888);margin-right:-3.19px">PNRT</i><i style="transform:scaleX(0.988);margin-right:-0.04px">:</i></div>
<div class="l b" id="l58" style="left:401.50px;top:248px;transform:scaleX(0.9986)"><i style="transform:scaleX(1.077);margin-right:0.88px">46</i><i style="transform:scaleX(1.078);margin-right:0.22px"> </i><i style="transform:scaleX(0.888);margin-right:-0.92px">G</i><i style="transform:scaleX(1.065);margin-right:0.37px">y</i><i style="transform:scaleX(1.078);margin-right:0.22px"> </i><i style="transform:scaleX(0.988);margin-right:-0.05px">(</i><i style="transform:scaleX(1.077);margin-right:0.88px">23</i><i style="transform:scaleX(1.078);margin-right:0.22px"> </i><i style="transform:scaleX(1.065);margin-right:0.24px">f</i><i style="transform:scaleX(0.988);margin-right:-0.04px">,</i><i style="transform:scaleX(1.078);margin-right:0.22px"> </i><i style="transform:scaleX(1.077);margin-right:0.44px">4</i><i style="transform:scaleX(0.988);margin-right:-0.04px">.</i><i style="transform:scaleX(1.077);margin-right:0.44px">5</i><i style="transform:scaleX(1.078);margin-right:0.22px"> </i><i style="transform:scaleX(1.065);margin-right:0.90px">wk</i><i style="transform:scaleX(0.988);margin-right:-0.05px">)</i></div>
<div class="l b" id="l59" style="left:605.80px;top:194px;transform:scaleX(0.9992)"><i style="transform:scaleX(0.888);margin-right:-0.92px">A</i><i style="transform:scaleX(1.065);margin-right:2.20px">djuvant</i><i style="transform:scaleX(1.078);margin-right:0.22px"> </i><i style="transform:scaleX(1.065);margin-right:0.61px">or</i><i style="transform:scaleX(1.078);margin-right:0.22px"> </i><i style="transform:scaleX(1.065);margin-right:2.20px">salvage</i><i style="transform:scaleX(1.078);margin-right:0.22px"> </i><i style="transform:scaleX(0.888);margin-right:-3.12px">PBRT</i><i style="transform:scaleX(0.988);margin-right:-0.04px">/</i><i style="transform:scaleX(0.888);margin-right:-3.19px">PNRT</i><i style="transform:scaleX(1.078);margin-right:0.22px"> </i><i style="transform:scaleX(0.988);margin-right:-0.08px">+</i><i style="transform:scaleX(1.078);margin-right:0.22px"> </i><i style="transform:scaleX(0.888);margin-right:-1.70px">HT</i><i style="transform:scaleX(1.078);margin-right:0.22px"> </i><i style="transform:scaleX(0.988);margin-right:-0.05px">(</i><i style="transform:scaleX(0.888);margin-right:-1.85px">AA</i><i style="transform:scaleX(1.078);margin-right:0.22px"> </i><i style="transform:scaleX(1.065);margin-right:0.61px">or</i></div>
<div class="l b" id="l60" style="left:605.80px;top:207px;transform:scaleX(0.9683)"><i style="transform:scaleX(0.888);margin-right:-3.48px">LHRH</i><i style="transform:scaleX(0.988);margin-right:-0.05px">)</i></div>
<div class="l b" id="l61" style="left:842.20px;top:194px;transform:scaleX(1.0127)"><i style="transform:scaleX(0.888);margin-right:-1.14px">M</i><i style="transform:scaleX(1.065);margin-right:2.45px">etastasis</i><i style="transform:scaleX(0.988);margin-right:-0.05px">-</i><i style="transform:scaleX(1.065);margin-right:1.14px">free</i><i style="transform:scaleX(1.078);margin-right:0.22px"> </i><i style="transform:scaleX(1.065);margin-right:2.37px">survival</i></div>
<div class="l b" id="l62" style="left:971.30px;top:194px;transform:scaleX(0.9617)"><i style="transform:scaleX(1.077);margin-right:0.44px">9</i><i style="transform:scaleX(0.988);margin-right:-0.04px">.</i><i style="transform:scaleX(1.077);margin-right:0.44px">0</i></div>
<div class="l b" id="l63" style="left:5.70px;top:276px;transform:scaleX(0.9915)"><i style="transform:scaleX(0.888);margin-right:-2.70px">NRG</i><i style="transform:scaleX(0.988);margin-right:-0.04px">/</i><i style="transform:scaleX(0.888);margin-right:-3.38px">RTOG</i><i style="transform:scaleX(1.078);margin-right:0.22px"> </i><i style="transform:scaleX(1.077);margin-right:1.76px">9601</i></div>
<div class="l b" id="l64" style="left:19.60px;top:289px;transform:scaleX(0.9925)"><i style="transform:scaleX(0.888);margin-right:-0.71px">S</i><i style="transform:scaleX(1.065);margin-right:1.84px">hipley</i><i style="transform:scaleX(1.078);margin-right:0.22px"> </i><i style="transform:scaleX(0.988);margin-right:-0.05px">(</i><i style="transform:scaleX(1.077);margin-right:1.76px">2017</i><i style="transform:scaleX(0.988);margin-right:-0.05px">)</i><i style="transform:scaleX(1.078);margin-right:0.22px"> </i><i style="transform:scaleX(0.988);margin-right:-0.05px">[</i><i class="k" style="transform:scaleX(1.077);margin-right:0.44px">1</i><i style="transform:scaleX(0.988);margin-right:-0.05px">]</i></div>
<div class="l b" id="l65" style="left:188.50px;top:276px;transform:scaleX(0.9905)"><i style="transform:scaleX(1.077);margin-right:1.76px">1998</i><i style="transform:scaleX(0.800);margin-right:-1.14px">–</i><i style="transform:scaleX(1.077);margin-right:1.76px">2003</i></div>
<div class="l b" id="l66" style="left:271.30px;top:276px;transform:scaleX(0.9785)"><i style="transform:scaleX(1.077);margin-right:1.32px">760</i></div>
<div class="l b" id="l67" style="left:271.30px;top:289px;transform:scaleX(0.9900)"><i style="transform:scaleX(1.077);margin-right:1.32px">376</i><i style="transform:scaleX(1.078);margin-right:0.22px"> </i><i style="transform:scaleX(1.065);margin-right:0.65px">vs</i><i style="transform:scaleX(1.078);margin-right:0.22px"> </i><i style="transform:scaleX(1.077);margin-right:1.32px">384</i></div>
<div class="l b" id="l68" style="left:401.50px;top:276px;transform:scaleX(0.9927)"><i style="transform:scaleX(0.888);margin-right:-0.71px">S</i><i style="transform:scaleX(1.065);margin-right:1.92px">alvage</i><i style="transform:scaleX(1.078);margin-right:0.22px"> </i><i style="transform:scaleX(0.888);margin-right:-3.12px">PBRT</i><i style="transform:scaleX(1.078);margin-right:0.22px"> </i><i style="transform:scaleX(0.988);margin-right:-0.08px">+</i><i style="transform:scaleX(1.078);margin-right:0.22px"> </i><i style="transform:scaleX(1.065);margin-right:2.29px">placebo</i><i style="transform:scaleX(0.988);margin-right:-0.04px">:</i></div>
<div class="l b" id="l69" style="left:401.50px;top:289px;transform:scaleX(0.9986)"><i style="transform:scaleX(1.077);margin-right:0.88px">64</i><i style="transform:scaleX(0.988);margin-right:-0.04px">.</i><i style="transform:scaleX(1.077);margin-right:0.44px">8</i><i style="transform:scaleX(1.078);margin-right:0.22px"> </i><i style="transform:scaleX(0.888);margin-right:-0.92px">G</i><i style="transform:scaleX(1.065);margin-right:0.37px">y</i><i style="transform:scaleX(1.078);margin-right:0.22px"> </i><i style="transform:scaleX(0.988);margin-right:-0.05px">(</i><i style="transform:scaleX(1.077);margin-right:0.88px">36</i><i style="transform:scaleX(1.078);margin-right:0.22px"> </i><i style="transform:scaleX(1.065);margin-right:0.24px">f</i><i style="transform:scaleX(0.988);margin-right:-0.04px">,</i><i style="transform:scaleX(1.078);margin-right:0.22px"> </i><i style="transform:scaleX(1.077);margin-right:0.44px">7</i><i style="transform:scaleX(1.078);margin-right:0.22px"> </i><i style="transform:scaleX(1.065);margin-right:0.90px">wk</i><i style="transform:scaleX(0.988);margin-right:-0.05px">)</i></div>
<div class="l b" id="l70" style="left:605.80px;top:276px;transform:scaleX(0.9771)"><i style="transform:scaleX(0.888);margin-right:-0.71px">S</i><i style="transform:scaleX(1.065);margin-right:1.92px">alvage</i><i style="transform:scaleX(1.078);margin-right:0.22px"> </i><i style="transform:scaleX(0.888);margin-right:-3.12px">PBRT</i><i style="transform:scaleX(1.078);margin-right:0.22px"> </i><i style="transform:scaleX(0.988);margin-right:-0.08px">+</i><i style="transform:scaleX(1.078);margin-right:0.22px"> </i><i style="transform:scaleX(0.888);margin-right:-1.70px">HT</i><i style="transform:scaleX(1.078);margin-right:0.22px"> </i><i style="transform:scaleX(0.988);margin-right:-0.05px">(</i><i style="transform:scaleX(0.888);margin-right:-1.85px">AA</i><i style="transform:scaleX(0.988);margin-right:-0.05px">)</i></div>
<div class="l b" id="l71" style="left:842.20px;top:276px;transform:scaleX(0.9914)"><i style="transform:scaleX(0.888);margin-right:-0.92px">O</i><i style="transform:scaleX(1.065);margin-right:1.67px">verall</i><i style="transform:scaleX(1.078);margin-right:0.22px"> </i><i style="transform:scaleX(1.065);margin-right:2.37px">survival</i></div>
<div class="l b" id="l72" style="left:971.30px;top:276px;transform:scaleX(1.0024)"><i style="transform:scaleX(1.077);margin-right:0.88px">13</i><i style="transform:scaleX(0.988);margin-right:-0.04px">.</i><i style="transform:scaleX(1.077);margin-right:0.44px">0</i></div>
<div class="l b" id="l73" style="left:5.70px;top:302px;transform:scaleX(0.9886)"><i style="transform:scaleX(0.888);margin-right:-6.39px">RADICALS</i><i style="transform:scaleX(0.800);margin-right:-1.14px">–</i><i style="transform:scaleX(0.888);margin-right:-1.85px">HD</i><i style="transform:scaleX(1.078);margin-right:0.22px"> </i><i style="transform:scaleX(0.988);margin-right:-0.05px">(</i><i style="transform:scaleX(1.065);margin-right:0.37px">b</i><i style="transform:scaleX(0.988);margin-right:-0.05px">)</i></div>
<div class="l b" id="l74" style="left:19.60px;top:316px;transform:scaleX(1.0001)"><i style="transform:scaleX(0.888);margin-right:-0.71px">P</i><i style="transform:scaleX(1.065);margin-right:1.51px">arker</i><i style="transform:scaleX(1.078);margin-right:0.22px"> </i><i style="transform:scaleX(0.988);margin-right:-0.05px">(</i><i style="transform:scaleX(1.077);margin-right:1.76px">2024</i><i style="transform:scaleX(0.988);margin-right:-0.05px">)</i><i style="transform:scaleX(1.078);margin-right:0.22px"> </i><i style="transform:scaleX(0.988);margin-right:-0.05px">[</i><i class="k" style="transform:scaleX(1.077);margin-right:0.88px">19</i><i style="transform:scaleX(0.988);margin-right:-0.04px">,</i><i class="k" style="transform:scaleX(1.077);margin-right:0.88px">20</i><i style="transform:scaleX(0.988);margin-right:-0.05px">]</i></div>
<div class="l b" id="l75" style="left:188.50px;top:302px;transform:scaleX(0.9905)"><i style="transform:scaleX(1.077);margin-right:1.76px">2007</i><i style="transform:scaleX(0.800);margin-right:-1.14px">–</i><i style="transform:scaleX(1.077);margin-right:1.76px">2016</i></div>
<div class="l b" id="l76" style="left:271.30px;top:302px;transform:scaleX(0.9818)"><i style="transform:scaleX(1.077);margin-right:1.32px">328</i></div>
<div class="l b" id="l77" style="left:271.30px;top:316px;transform:scaleX(1.0090)"><i style="transform:scaleX(1.077);margin-right:1.32px">166</i><i style="transform:scaleX(1.078);margin-right:0.22px"> </i><i style="transform:scaleX(1.065);margin-right:0.65px">vs</i><i style="transform:scaleX(1.078);margin-right:0.22px"> </i><i style="transform:scaleX(1.077);margin-right:1.32px">162</i></div>
<div class="l b" id="l78" style="left:401.50px;top:302px;transform:scaleX(1.0019)"><i style="transform:scaleX(0.888);margin-right:-0.92px">A</i><i style="transform:scaleX(1.065);margin-right:2.20px">djuvant</i><i style="transform:scaleX(1.078);margin-right:0.22px"> </i><i style="transform:scaleX(1.065);margin-right:0.61px">or</i><i style="transform:scaleX(1.078);margin-right:0.22px"> </i><i style="transform:scaleX(1.065);margin-right:2.20px">salvage</i><i style="transform:scaleX(1.078);margin-right:0.22px"> </i><i style="transform:scaleX(0.888);margin-right:-3.12px">PBRT</i><i style="transform:scaleX(0.988);margin-right:-0.04px">:</i></div>
<div class="l b" id="l79" style="left:401.50px;top:316px;transform:scaleX(0.9948)"><i style="transform:scaleX(1.077);margin-right:0.88px">52</i><i style="transform:scaleX(0.988);margin-right:-0.04px">.</i><i style="transform:scaleX(1.077);margin-right:0.44px">5</i><i style="transform:scaleX(1.078);margin-right:0.22px"> </i><i style="transform:scaleX(0.888);margin-right:-0.92px">G</i><i style="transform:scaleX(1.065);margin-right:0.37px">y</i><i style="transform:scaleX(1.078);margin-right:0.22px"> </i><i style="transform:scaleX(0.988);margin-right:-0.05px">(</i><i style="transform:scaleX(1.077);margin-right:0.88px">20</i><i style="transform:scaleX(1.078);margin-right:0.22px"> </i><i style="transform:scaleX(1.065);margin-right:0.24px">f</i><i style="transform:scaleX(0.988);margin-right:-0.04px">,</i><i style="transform:scaleX(1.078);margin-right:0.22px"> </i><i style="transform:scaleX(1.077);margin-right:0.44px">4</i><i style="transform:scaleX(1.078);margin-right:0.22px"> </i><i style="transform:scaleX(1.065);margin-right:0.90px">wk</i><i style="transform:scaleX(0.988);margin-right:-0.05px">)</i><i style="transform:scaleX(1.078);margin-right:0.22px"> </i><i style="transform:scaleX(1.065);margin-right:0.61px">or</i><i style="transform:scaleX(1.078);margin-right:0.22px"> </i><i style="transform:scaleX(1.077);margin-right:0.88px">66</i><i style="transform:scaleX(1.078);margin-right:0.22px"> </i><i style="transform:scaleX(0.888);margin-right:-0.92px">G</i><i style="transform:scaleX(1.065);margin-right:0.37px">y</i><i style="transform:scaleX(1.078);margin-right:0.22px"> </i><i style="transform:scaleX(0.988);margin-right:-0.05px">(</i><i style="transform:scaleX(1.077);margin-right:0.88px">33</i><i style="transform:scaleX(1.078);margin-right:0.22px"> </i><i style="transform:scaleX(1.065);margin-right:0.24px">f</i><i style="transform:scaleX(0.988);margin-right:-0.04px">,</i><i style="transform:scaleX(1.078);margin-right:0.22px"> </i><i style="transform:scaleX(1.077);margin-right:0.44px">6</i><i style="transform:scaleX(0.988);margin-right:-0.04px">.</i><i style="transform:scaleX(1.077);margin-right:0.44px">5</i></div>
<div class="l b" id="l80" style="left:401.50px;top:330px;transform:scaleX(0.9532)"><i style="transform:scaleX(1.065);margin-right:0.90px">wk</i><i style="transform:scaleX(0.988);margin-right:-0.05px">)</i></div>
<div class="l b" id="l81" style="left:401.50px;top:344px;transform:scaleX(1.0514)"><i style="transform:scaleX(0.888);margin-right:-3.19px">PNRT</i><i style="transform:scaleX(0.988);margin-right:-0.04px">:</i></div>
<div class="l b" id="l82" style="left:401.50px;top:357px;transform:scaleX(0.9986)"><i style="transform:scaleX(1.077);margin-right:0.88px">46</i><i style="transform:scaleX(1.078);margin-right:0.22px"> </i><i style="transform:scaleX(0.888);margin-right:-0.92px">G</i><i style="transform:scaleX(1.065);margin-right:0.37px">y</i><i style="transform:scaleX(1.078);margin-right:0.22px"> </i><i style="transform:scaleX(0.988);margin-right:-0.05px">(</i><i style="transform:scaleX(1.077);margin-right:0.88px">23</i><i style="transform:scaleX(1.078);margin-right:0.22px"> </i><i style="transform:scaleX(1.065);margin-right:0.24px">f</i><i style="transform:scaleX(0.988);margin-right:-0.04px">,</i><i style="transform:scaleX(1.078);margin-right:0.22px"> </i><i style="transform:scaleX(1.077);margin-right:0.44px">4</i><i style="transform:scaleX(0.988);margin-right:-0.04px">.</i><i style="transform:scaleX(1.077);margin-right:0.44px">5</i><i style="transform:scaleX(1.078);margin-right:0.22px"> </i><i style="transform:scaleX(1.065);margin-right:0.90px">wk</i><i style="transform:scaleX(0.988);margin-right:-0.05px">)</i></div>
<div class="l b" id="l83" style="left:605.80px;top:302px;transform:scaleX(0.9992)"><i style="transform:scaleX(0.888);margin-right:-0.92px">A</i><i style="transform:scaleX(1.065);margin-right:2.20px">djuvant</i><i style="transform:scaleX(1.078);margin-right:0.22px"> </i><i style="transform:scaleX(1.065);margin-right:0.61px">or</i><i style="transform:scaleX(1.078);margin-right:0.22px"> </i><i style="transform:scaleX(1.065);margin-right:2.20px">salvage</i><i style="transform:scaleX(1.078);margin-right:0.22px"> </i><i style="transform:scaleX(0.888);margin-right:-3.12px">PBRT</i><i style="transform:scaleX(0.988);margin-right:-0.04px">/</i><i style="transform:scaleX(0.888);margin-right:-3.19px">PNRT</i><i style="transform:scaleX(1.078);margin-right:0.22px"> </i><i style="transform:scaleX(0.988);margin-right:-0.08px">+</i><i style="transform:scaleX(1.078);margin-right:0.22px"> </i><i style="transform:scaleX(0.888);margin-right:-1.70px">HT</i><i style="transform:scaleX(1.078);margin-right:0.22px"> </i><i style="transform:scaleX(0.988);margin-right:-0.05px">(</i><i style="transform:scaleX(0.888);margin-right:-1.85px">AA</i><i style="transform:scaleX(1.078);margin-right:0.22px"> </i><i style="transform:scaleX(1.065);margin-right:0.61px">or</i></div>
<div class="l b" id="l84" style="left:605.80px;top:316px;transform:scaleX(0.9689)"><i style="transform:scaleX(0.888);margin-right:-3.48px">LHRH</i><i style="transform:scaleX(0.988);margin-right:-0.05px">)</i></div>
<div class="l b" id="l85" style="left:842.20px;top:302px;transform:scaleX(1.0126)"><i style="transform:scaleX(0.888);margin-right:-1.14px">M</i><i style="transform:scaleX(1.065);margin-right:2.45px">etastasis</i><i style="transform:scaleX(0.988);margin-right:-0.05px">-</i><i style="transform:scaleX(1.065);margin-right:1.14px">free</i><i style="transform:scaleX(1.078);margin-right:0.22px"> </i><i style="transform:scaleX(1.065);margin-right:2.37px">survival</i></div>
<div class="l b" id="l86" style="left:971.30px;top:302px;transform:scaleX(0.9617)"><i style="transform:scaleX(1.077);margin-right:0.44px">9</i><i style="transform:scaleX(0.988);margin-right:-0.04px">.</i><i style="transform:scaleX(1.077);margin-right:0.44px">0</i></div>
<div class="l b" id="l87" style="left:5.70px;top:384px;transform:scaleX(0.9850)"><i style="transform:scaleX(0.888);margin-right:-6.39px">RADICALS</i><i style="transform:scaleX(0.800);margin-right:-1.14px">–</i><i style="transform:scaleX(0.888);margin-right:-1.85px">HD</i><i style="transform:scaleX(1.078);margin-right:0.22px"> </i><i style="transform:scaleX(0.988);margin-right:-0.05px">(</i><i style="transform:scaleX(1.065);margin-right:0.33px">c</i><i style="transform:scaleX(0.988);margin-right:-0.05px">)</i></div>
<div class="l b" id="l88" style="left:19.60px;top:398px;transform:scaleX(1.0018)"><i style="transform:scaleX(0.888);margin-right:-0.71px">P</i><i style="transform:scaleX(1.065);margin-right:1.51px">arker</i><i style="transform:scaleX(1.078);margin-right:0.22px"> </i><i style="transform:scaleX(0.988);margin-right:-0.05px">(</i><i style="transform:scaleX(1.077);margin-right:1.76px">2024</i><i style="transform:scaleX(0.988);margin-right:-0.05px">)</i><i style="transform:scaleX(1.078);margin-right:0.22px"> </i><i style="transform:scaleX(0.988);margin-right:-0.05px">[</i><i class="k" style="transform:scaleX(1.077);margin-right:0.88px">19</i><i style="transform:scaleX(0.988);margin-right:-0.05px">]</i></div>
<div class="l b" id="l89" style="left:188.50px;top:384px;transform:scaleX(0.9905)"><i style="transform:scaleX(1.077);margin-right:1.76px">2007</i><i style="transform:scaleX(0.800);margin-right:-1.14px">–</i><i style="transform:scaleX(1.077);margin-right:1.76px">2016</i></div>
<div class="l b" id="l90" style="left:271.30px;top:384px;transform:scaleX(1.0037)"><i style="transform:scaleX(1.077);margin-right:1.76px">1523</i></div>
<div class="l b" id="l91" style="left:271.10px;top:398px;transform:scaleX(0.9974)"><i style="transform:scaleX(0.988);margin-right:-0.05px">(</i><i style="transform:scaleX(1.077);margin-right:1.32px">597</i><i style="transform:scaleX(1.078);margin-right:0.22px"> </i><i style="transform:scaleX(0.988);margin-right:-0.08px">+</i><i style="transform:scaleX(1.078);margin-right:0.22px"> </i><i style="transform:scaleX(1.077);margin-right:1.32px">164</i><i style="transform:scaleX(0.988);margin-right:-0.05px">)</i><i style="transform:scaleX(1.078);margin-right:0.22px"> </i><i style="transform:scaleX(1.065);margin-right:0.65px">vs</i><i style="transform:scaleX(1.078);margin-right:0.22px"> </i><i style="transform:scaleX(0.988);margin-right:-0.05px">(</i><i style="transform:scaleX(1.077);margin-right:1.32px">600</i><i style="transform:scaleX(1.078);margin-right:0.22px"> </i><i style="transform:scaleX(0.988);margin-right:-0.08px">+</i></div>
<div class="l b" id="l92" style="left:271.30px;top:412px;transform:scaleX(0.9894)"><i style="transform:scaleX(1.077);margin-right:1.32px">162</i><i style="transform:scaleX(0.988);margin-right:-0.05px">)</i></div>
<div class="l b" id="l93" style="left:401.50px;top:384px;transform:scaleX(1.0018)"><i style="transform:scaleX(0.888);margin-right:-0.92px">A</i><i style="transform:scaleX(1.065);margin-right:2.20px">djuvant</i><i style="transform:scaleX(1.078);margin-right:0.22px"> </i><i style="transform:scaleX(1.065);margin-right:0.61px">or</i><i style="transform:scaleX(1.078);margin-right:0.22px"> </i><i style="transform:scaleX(1.065);margin-right:2.20px">salvage</i><i style="transform:scaleX(1.078);margin-right:0.22px"> </i><i style="transform:scaleX(0.888);margin-right:-3.12px">PBRT</i><i style="transform:scaleX(0.988);margin-right:-0.08px">+</i><i style="transform:scaleX(0.888);margin-right:-1.70px">HT</i><i style="transform:scaleX(1.078);margin-right:0.22px"> </i><i style="transform:scaleX(0.988);margin-right:-0.05px">(</i><i style="transform:scaleX(1.077);margin-right:0.44px">6</i><i style="transform:scaleX(1.078);margin-right:0.22px"> </i><i style="transform:scaleX(1.065);margin-right:0.94px">mo</i><i style="transform:scaleX(0.988);margin-right:-0.09px">):</i></div>
<div class="l b" id="l94" style="left:401.50px;top:398px;transform:scaleX(0.9948)"><i style="transform:scaleX(1.077);margin-right:0.88px">52</i><i style="transform:scaleX(0.988);margin-right:-0.04px">.</i><i style="transform:scaleX(1.077);margin-right:0.44px">5</i><i style="transform:scaleX(1.078);margin-right:0.22px"> </i><i style="transform:scaleX(0.888);margin-right:-0.92px">G</i><i style="transform:scaleX(1.065);margin-right:0.37px">y</i><i style="transform:scaleX(1.078);margin-right:0.22px"> </i><i style="transform:scaleX(0.988);margin-right:-0.05px">(</i><i style="transform:scaleX(1.077);margin-right:0.88px">20</i><i style="transform:scaleX(1.078);margin-right:0.22px"> </i><i style="transform:scaleX(1.065);margin-right:0.24px">f</i><i style="transform:scaleX(0.988);margin-right:-0.04px">,</i><i style="transform:scaleX(1.078);margin-right:0.22px"> </i><i style="transform:scaleX(1.077);margin-right:0.44px">4</i><i style="transform:scaleX(1.078);margin-right:0.22px"> </i><i style="transform:scaleX(1.065);margin-right:0.90px">wk</i><i style="transform:scaleX(0.988);margin-right:-0.05px">)</i><i style="transform:scaleX(1.078);margin-right:0.22px"> </i><i style="transform:scaleX(1.065);margin-right:0.61px">or</i><i style="transform:scaleX(1.078);margin-right:0.22px"> </i><i style="transform:scaleX(1.077);margin-right:0.88px">66</i><i style="transform:scaleX(1.078);margin-right:0.22px"> </i><i style="transform:scaleX(0.888);margin-right:-0.92px">G</i><i style="transform:scaleX(1.065);margin-right:0.37px">y</i><i style="transform:scaleX(1.078);margin-right:0.22px"> </i><i style="transform:scaleX(0.988);margin-right:-0.05px">(</i><i style="transform:scaleX(1.077);margin-right:0.88px">33</i><i style="transform:scaleX(1.078);margin-right:0.22px"> </i><i style="transform:scaleX(1.065);margin-right:0.24px">f</i><i style="transform:scaleX(0.988);margin-right:-0.04px">,</i><i style="transform:scaleX(1.078);margin-right:0.22px"> </i><i style="transform:scaleX(1.077);margin-right:0.44px">6</i><i style="transform:scaleX(0.988);margin-right:-0.04px">.</i><i style="transform:scaleX(1.077);margin-right:0.44px">5</i></div>
<div class="l b" id="l95" style="left:401.50px;top:412px;transform:scaleX(0.9532)"><i style="transform:scaleX(1.065);margin-right:0.90px">wk</i><i style="transform:scaleX(0.988);margin-right:-0.05px">)</i></div>
<div class="l b" id="l96" style="left:401.50px;top:426px;transform:scaleX(1.0514)"><i style="transform:scaleX(0.888);margin-right:-3.19px">PNRT</i><i style="transform:scaleX(0.988);margin-right:-0.04px">:</i></div>
<div class="l b" id="l97" style="left:401.50px;top:439px;transform:scaleX(0.9986)"><i style="transform:scaleX(1.077);margin-right:0.88px">46</i><i style="transform:scaleX(1.078);margin-right:0.22px"> </i><i style="transform:scaleX(0.888);margin-right:-0.92px">G</i><i style="transform:scaleX(1.065);margin-right:0.37px">y</i><i style="transform:scaleX(1.078);margin-right:0.22px"> </i><i style="transform:scaleX(0.988);margin-right:-0.05px">(</i><i style="transform:scaleX(1.077);margin-right:0.88px">23</i><i style="transform:scaleX(1.078);margin-right:0.22px"> </i><i style="transform:scaleX(1.065);margin-right:0.24px">f</i><i style="transform:scaleX(0.988);margin-right:-0.04px">,</i><i style="transform:scaleX(1.078);margin-right:0.22px"> </i><i style="transform:scaleX(1.077);margin-right:0.44px">4</i><i style="transform:scaleX(0.988);margin-right:-0.04px">.</i><i style="transform:scaleX(1.077);margin-right:0.44px">5</i><i style="transform:scaleX(1.078);margin-right:0.22px"> </i><i style="transform:scaleX(1.065);margin-right:0.90px">wk</i><i style="transform:scaleX(0.988);margin-right:-0.05px">)</i></div>
<div class="l b" id="l98" style="left:605.80px;top:384px;transform:scaleX(0.9954)"><i style="transform:scaleX(0.888);margin-right:-0.92px">A</i><i style="transform:scaleX(1.065);margin-right:2.20px">djuvant</i><i style="transform:scaleX(1.078);margin-right:0.22px"> </i><i style="transform:scaleX(1.065);margin-right:0.61px">or</i><i style="transform:scaleX(1.078);margin-right:0.22px"> </i><i style="transform:scaleX(1.065);margin-right:2.20px">salvage</i><i style="transform:scaleX(1.078);margin-right:0.22px"> </i><i style="transform:scaleX(0.888);margin-right:-3.12px">PBRT</i><i style="transform:scaleX(0.988);margin-right:-0.08px">+</i><i style="transform:scaleX(0.888);margin-right:-1.70px">HT</i><i style="transform:scaleX(1.078);margin-right:0.22px"> </i><i style="transform:scaleX(0.988);margin-right:-0.05px">(</i><i style="transform:scaleX(1.077);margin-right:0.88px">24</i><i style="transform:scaleX(1.078);margin-right:0.22px"> </i><i style="transform:scaleX(1.065);margin-right:0.94px">mo</i><i style="transform:scaleX(0.988);margin-right:-0.09px">):</i></div>
<div class="l b" id="l99" style="left:605.80px;top:398px;transform:scaleX(0.9945)"><i style="transform:scaleX(1.077);margin-right:0.88px">52</i><i style="transform:scaleX(0.988);margin-right:-0.04px">.</i><i style="transform:scaleX(1.077);margin-right:0.44px">5</i><i style="transform:scaleX(1.078);margin-right:0.22px"> </i><i style="transform:scaleX(0.888);margin-right:-0.92px">G</i><i style="transform:scaleX(1.065);margin-right:0.37px">y</i><i style="transform:scaleX(1.078);margin-right:0.22px"> </i><i style="transform:scaleX(0.988);margin-right:-0.05px">(</i><i style="transform:scaleX(1.077);margin-right:0.88px">20</i><i style="transform:scaleX(1.078);margin-right:0.22px"> </i><i style="transform:scaleX(1.065);margin-right:0.24px">f</i><i style="transform:scaleX(0.988);margin-right:-0.04px">,</i><i style="transform:scaleX(1.078);margin-right:0.22px"> </i><i style="transform:scaleX(1.077);margin-right:0.44px">4</i><i style="transform:scaleX(1.078);margin-right:0.22px"> </i><i style="transform:scaleX(1.065);margin-right:0.90px">wk</i><i style="transform:scaleX(0.988);margin-right:-0.05px">)</i><i style="transform:scaleX(1.078);margin-right:0.22px"> </i><i style="transform:scaleX(1.065);margin-right:0.61px">or</i><i style="transform:scaleX(1.078);margin-right:0.22px"> </i><i style="transform:scaleX(1.077);margin-right:0.88px">66</i><i style="transform:scaleX(1.078);margin-right:0.22px"> </i><i style="transform:scaleX(0.888);margin-right:-0.92px">G</i><i style="transform:scaleX(1.065);margin-right:0.37px">y</i><i style="transform:scaleX(1.078);margin-right:0.22px"> </i><i style="transform:scaleX(0.988);margin-right:-0.05px">(</i><i style="transform:scaleX(1.077);margin-right:0.88px">33</i><i style="transform:scaleX(1.078);margin-right:0.22px"> </i><i style="transform:scaleX(1.065);margin-right:0.24px">f</i><i style="transform:scaleX(0.988);margin-right:-0.04px">,</i><i style="transform:scaleX(1.078);margin-right:0.22px"> </i><i style="transform:scaleX(1.077);margin-right:0.44px">6</i><i style="transform:scaleX(0.988);margin-right:-0.04px">.</i><i style="transform:scaleX(1.077);margin-right:0.44px">5</i><i style="transform:scaleX(1.078);margin-right:0.22px"> </i><i style="transform:scaleX(1.065);margin-right:0.90px">wk</i><i style="transform:scaleX(0.988);margin-right:-0.05px">)</i></div>
<div class="l b" id="l100" style="left:605.80px;top:412px;transform:scaleX(1.0372)"><i style="transform:scaleX(0.888);margin-right:-3.19px">PNRT</i><i style="transform:scaleX(0.988);margin-right:-0.04px">:</i></div>
<div class="l b" id="l101" style="left:605.80px;top:426px;transform:scaleX(0.9852)"><i style="transform:scaleX(1.077);margin-right:0.88px">46</i><i style="transform:scaleX(1.078);margin-right:0.22px"> </i><i style="transform:scaleX(0.888);margin-right:-0.92px">G</i><i style="transform:scaleX(1.065);margin-right:0.37px">y</i><i style="transform:scaleX(1.078);margin-right:0.22px"> </i><i style="transform:scaleX(0.988);margin-right:-0.05px">(</i><i style="transform:scaleX(1.077);margin-right:0.88px">23</i><i style="transform:scaleX(1.078);margin-right:0.22px"> </i><i style="transform:scaleX(1.065);margin-right:0.24px">f</i><i style="transform:scaleX(0.988);margin-right:-0.04px">,</i><i style="transform:scaleX(1.078);margin-right:0.22px"> </i><i style="transform:scaleX(1.077);margin-right:0.44px">4</i><i style="transform:scaleX(0.988);margin-right:-0.04px">.</i><i style="transform:scaleX(1.077);margin-right:0.44px">5</i><i style="transform:scaleX(1.078);margin-right:0.22px"> </i><i style="transform:scaleX(1.065);margin-right:0.90px">wk</i><i style="transform:scaleX(0.988);margin-right:-0.05px">)</i></div>
<div class="l b" id="l102" style="left:842.20px;top:384px;transform:scaleX(1.0126)"><i style="transform:scaleX(0.888);margin-right:-1.14px">M</i><i style="transform:scaleX(1.065);margin-right:2.45px">etastasis</i><i style="transform:scaleX(0.988);margin-right:-0.05px">-</i><i style="transform:scaleX(1.065);margin-right:1.14px">free</i><i style="transform:scaleX(1.078);margin-right:0.22px"> </i><i style="transform:scaleX(1.065);margin-right:2.37px">survival</i></div>
<div class="l b" id="l103" style="left:971.30px;top:384px;transform:scaleX(0.9617)"><i style="transform:scaleX(1.077);margin-right:0.44px">9</i><i style="transform:scaleX(0.988);margin-right:-0.04px">.</i><i style="transform:scaleX(1.077);margin-right:0.44px">0</i></div>
<div class="l" style="left:937.80px;top:20px;font-size:8.9px;transform:scaleX(1.05)">a</div>
<div class="l" style="left:128.70px;top:109px;font-size:6.6px;transform:scaleX(1.15)">b</div>
<div class="l" style="left:93.80px;top:191px;font-size:8.4px;transform:scaleX(1.05)">c</div>
<div class="l" style="left:94.60px;top:300px;font-size:8.4px;transform:scaleX(1.05)">c</div>
<div class="l" style="left:93.80px;top:382px;font-size:8.4px;transform:scaleX(1.05)">c</div>
</div>
</body>
</html>
